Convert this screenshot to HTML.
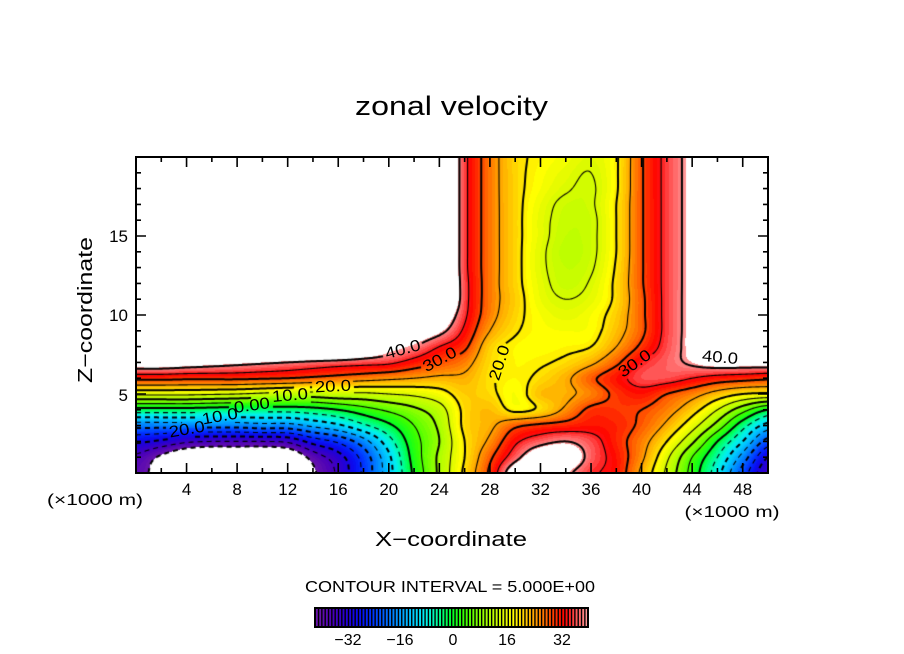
<!DOCTYPE html>
<html><head><meta charset="utf-8">
<style>
html,body{margin:0;padding:0;background:#fff;}
#wrap{position:relative;width:904px;height:654px;overflow:hidden;background:#fff;}
#c{position:absolute;left:136px;top:157px;}
#s{position:absolute;left:0;top:0;}
text{font-family:"Liberation Sans",sans-serif;fill:#000;}
</style></head>
<body><div id="wrap">
<canvas id="c" width="632" height="316"></canvas>
<svg id="s" width="904" height="654" viewBox="0 0 904 654">
 <rect x="136" y="157" width="632" height="316" fill="none" stroke="#000" stroke-width="2"/>
 <path id="ticks" d="" stroke="#000" stroke-width="1.6" fill="none"/>
 <g id="cb"></g>
 <text x="451.5" y="115" font-size="27" text-anchor="middle" textLength="193" lengthAdjust="spacingAndGlyphs">zonal velocity</text>
 <text x="451" y="546" font-size="20" text-anchor="middle" textLength="152" lengthAdjust="spacingAndGlyphs">X−coordinate</text>
 <text x="0" y="0" font-size="20" text-anchor="middle" textLength="146" lengthAdjust="spacingAndGlyphs" transform="translate(92,310) rotate(-90)">Z−coordinate</text>
 <g font-size="17" text-anchor="middle">
  <text x="186.6" y="495">4</text><text x="237.1" y="495">8</text><text x="287.7" y="495">12</text>
  <text x="338.2" y="495">16</text><text x="388.8" y="495">20</text><text x="439.4" y="495">24</text>
  <text x="489.9" y="495">28</text><text x="540.5" y="495">32</text><text x="591" y="495">36</text>
  <text x="641.6" y="495">40</text><text x="692.2" y="495">44</text><text x="742.7" y="495">48</text>
 </g>
 <g font-size="17" text-anchor="end">
  <text x="128" y="401">5</text><text x="128" y="321">10</text><text x="128" y="242">15</text>
 </g>
 <text x="95" y="505" font-size="16" text-anchor="middle" textLength="96" lengthAdjust="spacingAndGlyphs">(×1000 m)</text>
 <text x="732" y="517" font-size="16" text-anchor="middle" textLength="95" lengthAdjust="spacingAndGlyphs">(×1000 m)</text>
 <text x="450" y="592" font-size="16" text-anchor="middle" textLength="290" lengthAdjust="spacingAndGlyphs">CONTOUR INTERVAL = 5.000E+00</text>
 <g font-size="16" text-anchor="middle">
  <text x="348" y="645">−32</text><text x="400" y="645">−16</text><text x="453" y="645">0</text>
  <text x="507" y="645">16</text><text x="562" y="645">32</text>
 </g>
 <g font-size="16" text-anchor="middle" dominant-baseline="central">
  <text x="0" y="0" textLength="36" lengthAdjust="spacingAndGlyphs" transform="translate(403,350) rotate(-15)">40.0</text>
  <text x="0" y="0" textLength="36" lengthAdjust="spacingAndGlyphs" transform="translate(440,360) rotate(-28)">30.0</text>
  <text x="0" y="0" textLength="36" lengthAdjust="spacingAndGlyphs" transform="translate(333,387) rotate(-3)">20.0</text>
  <text x="0" y="0" textLength="36" lengthAdjust="spacingAndGlyphs" transform="translate(290,396) rotate(-5)">10.0</text>
  <text x="0" y="0" textLength="36" lengthAdjust="spacingAndGlyphs" transform="translate(252,406) rotate(-8)">0.00</text>
  <text x="0" y="0" textLength="36" lengthAdjust="spacingAndGlyphs" transform="translate(220,417) rotate(-10)">10.0</text>
  <text x="0" y="0" textLength="36" lengthAdjust="spacingAndGlyphs" transform="translate(187,430) rotate(-10)">20.0</text>
  <text x="0" y="0" textLength="36" lengthAdjust="spacingAndGlyphs" transform="translate(500,363) rotate(-72)">20.0</text>
  <text x="0" y="0" textLength="36" lengthAdjust="spacingAndGlyphs" transform="translate(635,364) rotate(-35)">30.0</text>
  <text x="0" y="0" textLength="36" lengthAdjust="spacingAndGlyphs" transform="translate(720,358) rotate(5)">40.0</text>
 </g>
</svg></div>
<script>
(function(){
function mk(mid){return [55,55,55,55,55,55,55,55,55,55,55,55,55].concat(mid,[55,55,55]);}
var R=[
[-38,-43,-50,-52,-52,-52,-50,-41,-34,-24,-12,1,11,21,31,45,52,42,36,33,24,14,3,-8,-22,-34],
[-36,-41,-46,-48,-48,-48,-46,-38,-32,-23,-11,2,11,20,29,38,46,46,38,33,26,16,5,-5,-17,-30],
[-29,-31,-34,-35,-35,-35,-34,-28,-24,-17,-7,3,10,20,26,34,38,40,37,32,27,20,11,0,-10,-22],
[-18,-18,-18,-18,-18,-17,-17,-14,-11,-6,-1,5,11,21,24,29,31,32,33,32,29,24,17,8,-3,-12],
[-2,-2,-2,-2.5,-3,-3,-3,-2,0,3,6,9,13,21,23,19,21,26,31,31,30,27,22,15,7,0],
[16,16,16,15.5,15,14,13,13,14,14,15,16,18,22,21,18,23,24,27,31,33,30,27,23,20,19],
[31.5,31.5,31,31,31,30.5,30,29,28,27,26,25,24,24,20.5,19,21,24,29,33,37,37,35,33,32,31],
[45,45,44,43,42,41,40,39,38,37,36,33,30,27,21,19,19.5,21,24,29,35,38,41,44,44,44],
[55,55,55,55,55,55,55,55,55,50,44,40,35,31,22,19,18.5,19,20,25,31,37,43,55,55,55],
[55,55,55,55,55,55,55,55,55,55,52,47,42,34,25,20.5,18.5,18,18.5,23,29,36.5,43,55,55,55],
[55,55,55,55,55,55,55,55,55,55,55,55,48,36,27,21.5,18,16.5,18,22,29,36.5,43,55,55,55],
mk([37,27.5,22,17,15,16.5,21,29,36.5,43]),
mk([37,27.5,21.5,16.5,13.5,15.5,21,29.5,36.5,43]),
mk([36.5,27.5,21.5,16,13,14.5,20.5,29.5,36.5,43]),
mk([36.5,27.5,21.5,16,12.5,14,20,29.5,36.5,43]),
mk([36.5,27.5,21.5,16.5,13,14,20,29.5,36.5,43]),
mk([36.5,27.5,21.5,16.5,13.5,14,20,29.5,36.5,43]),
mk([36.5,27.5,21.5,17,14,14.5,20,29.5,36.5,43]),
mk([36.5,27.5,21.5,18,15.5,14.5,19.5,29.5,36.5,43]),
mk([36.5,27.5,21.5,18.5,16.5,15,19.5,29.5,36.5,43]),
mk([36.5,27.5,21.5,19,17.5,16,19.5,29.5,36.5,43])
];
function g(i,j){i=Math.max(0,Math.min(25,i));j=Math.max(0,Math.min(20,j));return R[j][i];}
function cr(p0,p1,p2,p3,t){return 0.5*((2*p1)+(-p0+p2)*t+(2*p0-5*p1+4*p2-p3)*t*t+(-p0+3*p1-3*p2+p3)*t*t*t);}
function field(x,z){var fx=x/2,fz=z,i=Math.floor(fx),j=Math.floor(fz);if(i>24){i=24;}if(j>19){j=19;}
 var tx=fx-i,tz=fz-j,r=[];for(var m=-1;m<=2;m++){r.push(cr(g(i-1,j+m),g(i,j+m),g(i+1,j+m),g(i+2,j+m),tx));}
 return cr(r[0],r[1],r[2],r[3],tz);}
var col=[[-40,105,20,170],[-36,75,0,185],[-32,40,0,210],[-28,10,10,240],[-24,0,50,255],[-20,0,100,255],
[-16,0,150,255],[-12,0,200,255],[-8,0,240,240],[-4,0,255,150],[0,0,255,40],[4,60,255,0],[8,130,255,0],
[12,185,255,0],[16,225,250,0],[18.5,255,255,0],[22,255,205,0],[25,255,160,0],[28,255,110,0],[31,255,50,0],
[34,255,0,0],[37,255,75,75],[41,255,160,160]];
function color(v){if(v<=col[0][0])return col[0].slice(1);for(var k=1;k<col.length;k++){if(v<=col[k][0]){var a=col[k-1],b=col[k],t=(v-a[0])/(b[0]-a[0]);return [a[1]+(b[1]-a[1])*t,a[2]+(b[2]-a[2])*t,a[3]+(b[3]-a[3])*t];}}return col[col.length-1].slice(1);}
var W=632,H=316,nx=W+1,ny=H+1,F=new Float64Array(nx*ny);
for(var j=0;j<ny;j++){for(var i=0;i<nx;i++){F[j*nx+i]=field(i*50/W,20-j*20/H);}}
var cv=document.getElementById('c'),ctx=cv.getContext('2d'),img=ctx.createImageData(W,H),d=img.data;
for(var j=0;j<H;j++){for(var i=0;i<W;i++){var v=(F[j*nx+i]+F[j*nx+i+1]+F[(j+1)*nx+i]+F[(j+1)*nx+i+1])/4;var p=(j*W+i)*4,c;
 if(v>41||v<-40){c=[255,255,255];}else{c=color(Math.floor(v)+0.5);}d[p]=c[0];d[p+1]=c[1];d[p+2]=c[2];d[p+3]=255;}}
ctx.putImageData(img,0,0);
var labels=[[403,350,-15],[440,360,-28],[333,387,-3],[290,396,-5],[252,406,-8],[220,417,-10],[187,430,-10],[500,363,-72],[635,364,-35],[720,358,5]];
function inLabel(x,y){var px=x+136,py=y+157;for(var k=0;k<labels.length;k++){var L=labels[k],a=L[2]*Math.PI/180,dx=px-L[0],dy=py-L[1];
 var u=dx*Math.cos(a)+dy*Math.sin(a),w=-dx*Math.sin(a)+dy*Math.cos(a);if(Math.abs(u)<20&&Math.abs(w)<8)return true;}return false;}
function contour(L){var adj=new Map(),pos=new Map();
 function ep(id,x,y){if(!pos.has(id))pos.set(id,[x,y]);}
 function link(a,b){if(!adj.has(a))adj.set(a,[]);if(!adj.has(b))adj.set(b,[]);adj.get(a).push(b);adj.get(b).push(a);}
 for(var j=0;j<ny-1;j++){for(var i=0;i<nx-1;i++){var a=F[j*nx+i],b=F[j*nx+i+1],c=F[(j+1)*nx+i+1],e=F[(j+1)*nx+i],cr=[],id,t;
  if((a<L)!==(b<L)){id=(j*nx+i)*2;t=(L-a)/(b-a);ep(id,i+t,j);cr.push(id);}
  if((b<L)!==(c<L)){id=(j*nx+i+1)*2+1;t=(L-b)/(c-b);ep(id,i+1,j+t);cr.push(id);}
  if((e<L)!==(c<L)){id=((j+1)*nx+i)*2;t=(L-e)/(c-e);ep(id,i+t,j+1);cr.push(id);}
  if((a<L)!==(e<L)){id=(j*nx+i)*2+1;t=(L-a)/(e-a);ep(id,i,j+t);cr.push(id);}
  if(cr.length===2)link(cr[0],cr[1]);
  else if(cr.length===4){var m=(a+b+c+e)/4;if((m<L)===(a<L)){link(cr[0],cr[1]);link(cr[2],cr[3]);}else{link(cr[0],cr[3]);link(cr[1],cr[2]);}}
 }}
 var seen=new Set(),lines=[];
 function walk(s){var pts=[s];seen.add(s);var cur=s;while(true){var nb=adj.get(cur),nxt=null;for(var q=0;q<nb.length;q++){if(!seen.has(nb[q])){nxt=nb[q];break;}}
  if(nxt===null){if(nb.indexOf(s)>=0&&pts.length>2)pts.push(s);break;}seen.add(nxt);pts.push(nxt);cur=nxt;}
  return pts.map(function(k){return pos.get(k);});}
 adj.forEach(function(nb,id){if(nb.length===1&&!seen.has(id))lines.push(walk(id));});
 adj.forEach(function(nb,id){if(!seen.has(id))lines.push(walk(id));});
 return lines;}
ctx.strokeStyle='#000';ctx.lineJoin='round';
for(var L=-40;L<=40;L+=5){var ls=contour(L);ctx.lineWidth=(L%10===0)?2:1.1;ctx.setLineDash(L<0?[5,4]:[]);
 ctx.beginPath();for(var k=0;k<ls.length;k++){var pts=ls[k],down=false;for(var q=0;q<pts.length;q++){var P=pts[q];
  if(inLabel(P[0],P[1])){down=false;continue;}if(!down){ctx.moveTo(P[0],P[1]);down=true;}else ctx.lineTo(P[0],P[1]);}}
 ctx.stroke();}
var t='';
for(var x=2;x<=48;x+=2){var px=136+x*12.64,len=(x%4===0)?10:5;t+='M'+px+' 473V'+(473-len)+'M'+px+' 157V'+(157+len);}
for(var z=1;z<=19;z++){var py=473-z*15.8,len=(z%5===0)?10:5;t+='M136 '+py+'H'+(136+len)+'M768 '+py+'H'+(768-len);}
document.getElementById('ticks').setAttribute('d',t);
var ns='http://www.w3.org/2000/svg',cb=document.getElementById('cb');
function r(x,y,w,h,f,s){var e=document.createElementNS(ns,'rect');e.setAttribute('x',x);e.setAttribute('y',y);e.setAttribute('width',w);e.setAttribute('height',h);e.setAttribute('fill',f);if(s){e.setAttribute('stroke',s);e.setAttribute('stroke-width',2);}cb.appendChild(e);}
r(315,608,273,19,'#000');
var N=82,sw=273/N;for(var k=0;k<N;k++){var v=-41+k+0.5,c=color(v);r(315+k*sw+0.9,609,sw-1.4,17,'rgb('+Math.round(c[0])+','+Math.round(c[1])+','+Math.round(c[2])+')');}
r(315,608,273,19,'none','#000');
})();
</script>
</body></html>
